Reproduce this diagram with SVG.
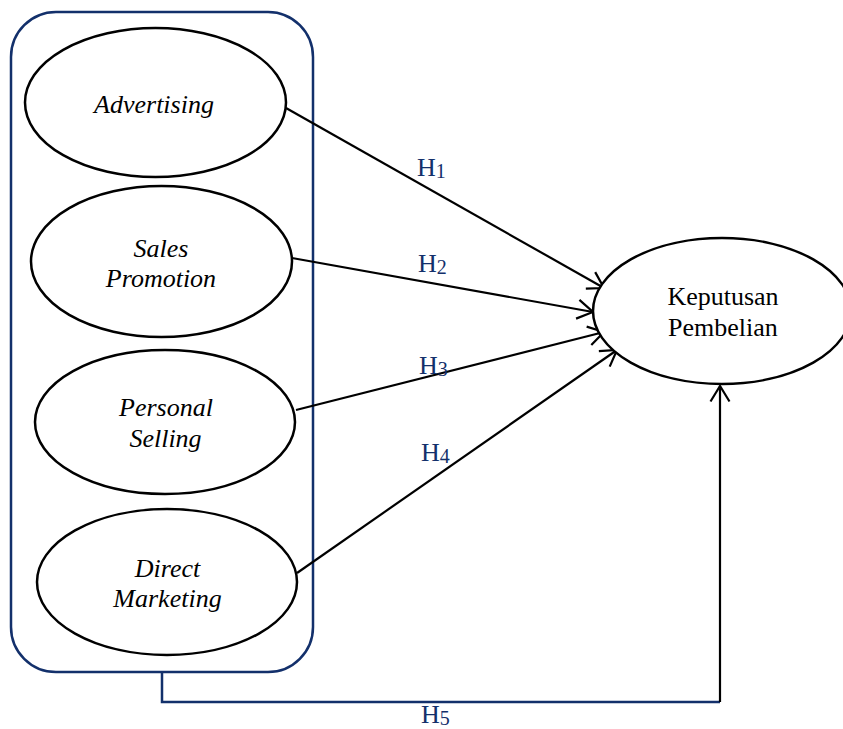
<svg xmlns="http://www.w3.org/2000/svg" width="843" height="729" viewBox="0 0 843 729">
<style>
.node ellipse{fill:#fff;stroke:#000;stroke-width:2.5}
.lbl{font-family:"Liberation Serif","Times New Roman",serif;font-size:26px;fill:#000;text-anchor:middle}
.it{font-style:italic}
.edge{stroke:#000;stroke-width:2.2;fill:none}
.navy{stroke:#13306b;stroke-width:2.5;fill:none}
.h{font-family:"Liberation Serif","Times New Roman",serif;font-size:26px;fill:#13306b}
.sub{font-size:20px}
</style>
<defs>
<marker id="arr" markerUnits="userSpaceOnUse" viewBox="-20 -12 22 24" refX="0" refY="0" markerWidth="22" markerHeight="24" orient="auto">
<path d="M -15.5 -9.5 L 0 0 L -15.5 9.5" fill="none" stroke="#000" stroke-width="2.2"/>
</marker>
</defs>
<rect id="group" x="11" y="12" width="302" height="660" rx="45" ry="45" class="navy"/>
<g id="connectors">
<line class="edge" x1="286" y1="108" x2="604" y2="288" marker-end="url(#arr)"/>
<line class="edge" x1="292" y1="258" x2="593" y2="312" marker-end="url(#arr)"/>
<line class="edge" x1="296" y1="410" x2="604" y2="332" marker-end="url(#arr)"/>
<line class="edge" x1="297" y1="573" x2="617" y2="350" marker-end="url(#arr)"/>
<polyline class="navy" points="162,672 162,702 720,702"/>
<line class="edge" x1="720" y1="702" x2="720" y2="386" marker-end="url(#arr)"/>
<text class="h" x="417" y="176">H<tspan class="sub" dy="2">1</tspan></text>
<text class="h" x="418" y="272">H<tspan class="sub" dy="2">2</tspan></text>
<text class="h" x="419" y="374">H<tspan class="sub" dy="2">3</tspan></text>
<text class="h" x="421" y="461">H<tspan class="sub" dy="2">4</tspan></text>
<text class="h" x="421" y="723">H<tspan class="sub" dy="2">5</tspan></text>
</g>
<g id="advertising" class="node">
<ellipse cx="155.5" cy="102.5" rx="130.5" ry="74.5"/>
<text class="lbl it" x="154" y="113">Advertising</text>
</g>
<g id="sales-promotion" class="node">
<ellipse cx="161.5" cy="261.5" rx="130.5" ry="75.5"/>
<text class="lbl it" x="161" y="257">Sales</text>
<text class="lbl it" x="161" y="287">Promotion</text>
</g>
<g id="personal-selling" class="node">
<ellipse cx="165" cy="422" rx="130" ry="72"/>
<text class="lbl it" x="166" y="416">Personal</text>
<text class="lbl it" x="165.5" y="447">Selling</text>
</g>
<g id="direct-marketing" class="node">
<ellipse cx="167" cy="582" rx="130" ry="73"/>
<text class="lbl it" x="167.5" y="577">Direct</text>
<text class="lbl it" x="167.5" y="607">Marketing</text>
</g>
<g id="keputusan-pembelian" class="node">
<ellipse cx="722" cy="311" rx="129" ry="73"/>
<text class="lbl" x="723" y="305">Keputusan</text>
<text class="lbl" x="723" y="336">Pembelian</text>
</g>
</svg>
